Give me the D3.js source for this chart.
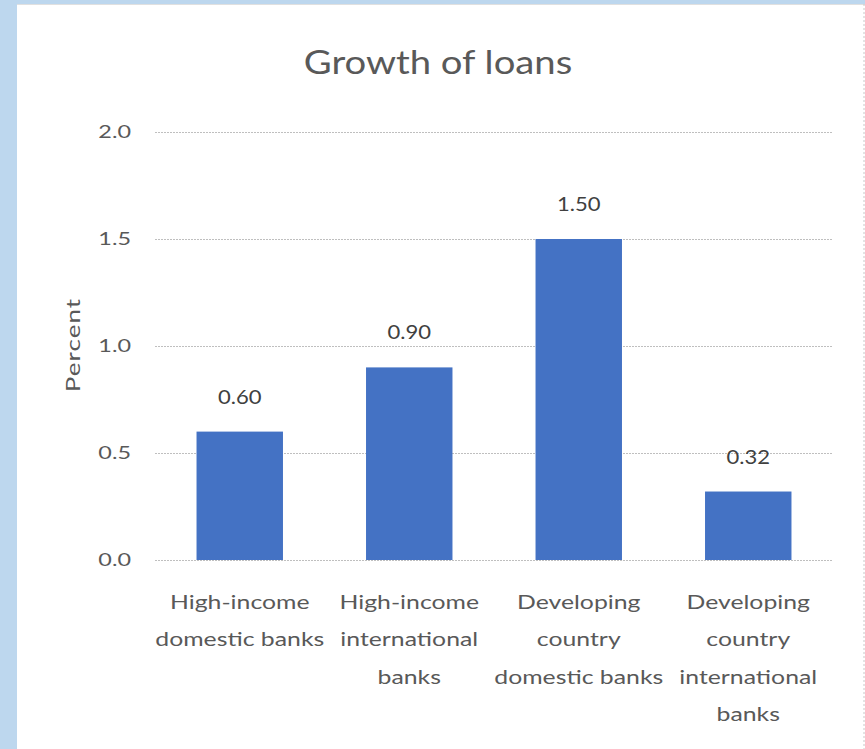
<!DOCTYPE html>
<html>
<head>
<meta charset="utf-8">
<script src="https://cdn.jsdelivr.net/npm/d3@7"></script>
<style>
  body { margin: 0; background: #bdd7ee; }
  svg { display: block; }
</style>
</head>
<body>
<svg id="chart" width="865" height="749"></svg>
<script>
// chart data
const categories = [
  ["High-income", "domestic banks"],
  ["High-income", "international", "banks"],
  ["Developing", "country", "domestic banks"],
  ["Developing", "country", "international", "banks"]
]
const values = [0.60, 0.90, 1.50, 0.32]
const yTicks = [0, 0.5, 1.0, 1.5, 2.0]

const svg = d3.select("#chart")
const font = "Lato, 'Open Sans', sans-serif"
const grey = "#595959"

// white chart area inside the blue frame
svg.append("rect")
  .attr("x", 17).attr("y", 4)
  .attr("width", 848).attr("height", 745)
  .attr("fill", "white")
svg.append("line")
  .attr("x1", 17).attr("x2", 865).attr("y1", 4.5).attr("y2", 4.5)
  .attr("stroke", "#e0e0e0")
svg.append("line")
  .attr("x1", 864).attr("x2", 864).attr("y1", 4).attr("y2", 749)
  .attr("stroke", "#c8c8c8").attr("stroke-dasharray", "2,2")

const plotLeft = 155, plotRight = 833, plotTop = 132, plotBottom = 560

const x = d3.scaleBand()
  .domain(d3.range(values.length))
  .range([plotLeft, plotRight])
  .paddingInner(0.49)
  .paddingOuter(0.245)

const y = d3.scaleLinear().domain([0, 2]).range([plotBottom, plotTop])

// gridlines
svg.append("g").selectAll("line")
  .data(yTicks)
  .join("line")
  .attr("x1", plotLeft).attr("x2", plotRight)
  .attr("y1", d => y(d) + 0.5).attr("y2", d => y(d) + 0.5)
  .attr("stroke", "#bfbfbf")
  .attr("stroke-dasharray", "2,1")

// y tick labels (text in the original is stretched sideways)
svg.append("g").selectAll("text")
  .data(yTicks)
  .join("text")
  .attr("transform", d => `translate(131,${y(d)}) scale(1.3,1)`)
  .attr("dy", "0.35em")
  .attr("text-anchor", "end")
  .attr("font-family", font)
  .attr("font-size", 18)
  .attr("fill", grey)
  .text(d => d3.format(".1f")(d))

// bars
svg.append("g").selectAll("rect")
  .data(values)
  .join("rect")
  .attr("x", (d, i) => x(i))
  .attr("y", d => y(d))
  .attr("width", x.bandwidth())
  .attr("height", d => y(0) - y(d))
  .attr("fill", "#4472c4")

// value labels
svg.append("g").selectAll("text")
  .data(values)
  .join("text")
  .attr("transform", (d, i) => `translate(${x(i) + x.bandwidth() / 2},${y(d) - 28}) scale(1.16,1)`)
  .attr("text-anchor", "middle")
  .attr("font-family", font)
  .attr("font-size", 19)
  .attr("fill", "#404040")
  .text(d => d3.format(".2f")(d))

// category labels
const cat = svg.append("g").selectAll("text")
  .data(categories)
  .join("text")
  .attr("transform", (d, i) => `translate(${x(i) + x.bandwidth() / 2},0) scale(1.24,1)`)
  .attr("text-anchor", "middle")
  .attr("font-family", font)
  .attr("font-size", 20)
  .attr("fill", grey)
cat.each(function(lines) {
  d3.select(this).selectAll("tspan")
    .data(lines)
    .join("tspan")
    .attr("x", 0)
    .attr("y", (d, j) => 609 + j * 37.5)
    .text(d => d)
})

// title
svg.append("text")
  .attr("transform", "translate(438,74) scale(1.16,1)")
  .attr("text-anchor", "middle")
  .attr("font-family", font)
  .attr("font-size", 33)
  .attr("fill", grey)
  .text("Growth of loans")

// y axis title
svg.append("text")
  .attr("transform", "translate(80,345) rotate(-90) scale(1.3,1)")
  .attr("text-anchor", "middle")
  .attr("font-family", font)
  .attr("font-size", 20)
  .attr("letter-spacing", 0.8)
  .attr("fill", grey)
  .text("Percent")
</script>
</body>
</html>
